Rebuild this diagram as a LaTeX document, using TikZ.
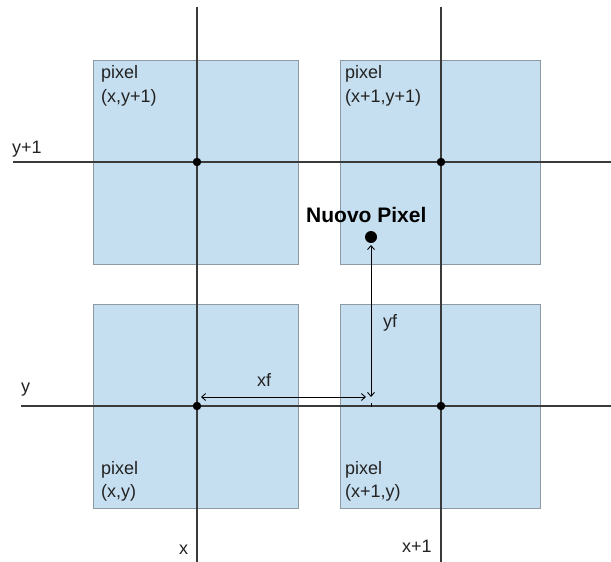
\documentclass[tikz,border=0pt]{standalone}
\usepackage{fontspec}
\setmainfont{Liberation Sans}
\usetikzlibrary{arrows.meta}
\definecolor{pxfill}{HTML}{C6DFF0}
\definecolor{pxedge}{HTML}{8E9AA3}
\definecolor{gridln}{HTML}{3A3A3A}
\definecolor{txt}{HTML}{222222}
\tikzset{
  pxbox/.style={fill=pxfill,draw=pxedge,line width=1pt},
  gridline/.style={draw=gridln,line width=1.5pt},
  lbl/.style={inner sep=0pt,anchor=base west,text=txt,font=\fontsize{18}{21}\selectfont},
  bold lbl/.style={inner sep=0pt,anchor=base west,text=black,font=\fontsize{21}{24}\selectfont\bfseries},
  dot/.style={circle,fill=black,inner sep=0pt,minimum size=8.5pt},
  bigdot/.style={circle,fill=black,inner sep=0pt,minimum size=12pt},
  dimarrow/.style={draw=black,line width=0.9pt,{Straight Barb[length=4pt,width=7pt]}-{Straight Barb[length=4pt,width=7pt]}}
}
\begin{document}
\begin{tikzpicture}[x=1pt,y=-1pt]
\useasboundingbox (0,0) rectangle (611,562);
% pixel squares
\draw[pxbox] (93,60) rectangle (298,264);
\draw[pxbox] (340,60) rectangle (540,264);
\draw[pxbox] (93,304) rectangle (298,508);
\draw[pxbox] (340,304) rectangle (540,508);
% grid lines
\draw[gridline] (197,7) -- (197,562);
\draw[gridline] (441,7) -- (441,562);
\draw[gridline] (13,162) -- (611,162);
\draw[gridline] (21,406) -- (611,406);
% intersection dots
\node[dot] (p11) at (197,162) {};
\node[dot] (p21) at (441,162) {};
\node[dot] (p10) at (197,406) {};
\node[dot] (p20) at (441,406) {};
% new pixel
\node[bigdot] (np) at (371,237) {};
\node[bold lbl] (nplbl) at (306,222) {Nuovo Pixel};
% dimension arrows
\coordinate (xfL) at (201,397);
\coordinate (xfR) at (366,397);
\coordinate (yfB) at (371,397);
\coordinate (yfT) at (371,245);
\draw[dimarrow] (xfL) -- (xfR);
\draw[dimarrow] (yfB) -- (yfT);
\coordinate (tkA) at (371,403);
\coordinate (tkB) at (371,407);
\draw[black,line width=0.6pt] (tkA) -- (tkB);
\node[lbl] (xf) at (257,386) {xf};
\node[lbl] (yf) at (383,327) {yf};
% pixel labels
\node[lbl] (a1) at (101,78) {pixel};
\node[lbl] (a2) at (101,102) {(x,y+1)};
\node[lbl] (b1) at (345,78) {pixel};
\node[lbl] (b2) at (345,102) {(x+1,y+1)};
\node[lbl] (c1) at (101,474) {pixel};
\node[lbl] (c2) at (101,497) {(x,y)};
\node[lbl] (d1) at (345,474) {pixel};
\node[lbl] (d2) at (345,497) {(x+1,y)};
% axis labels
\node[lbl] (ly1) at (12,153) {y+1};
\node[lbl] (ly) at (21,392) {y};
\node[lbl] (lx) at (179,554) {x};
\node[lbl] (lx1) at (402,552) {x+1};
\end{tikzpicture}
\end{document}
